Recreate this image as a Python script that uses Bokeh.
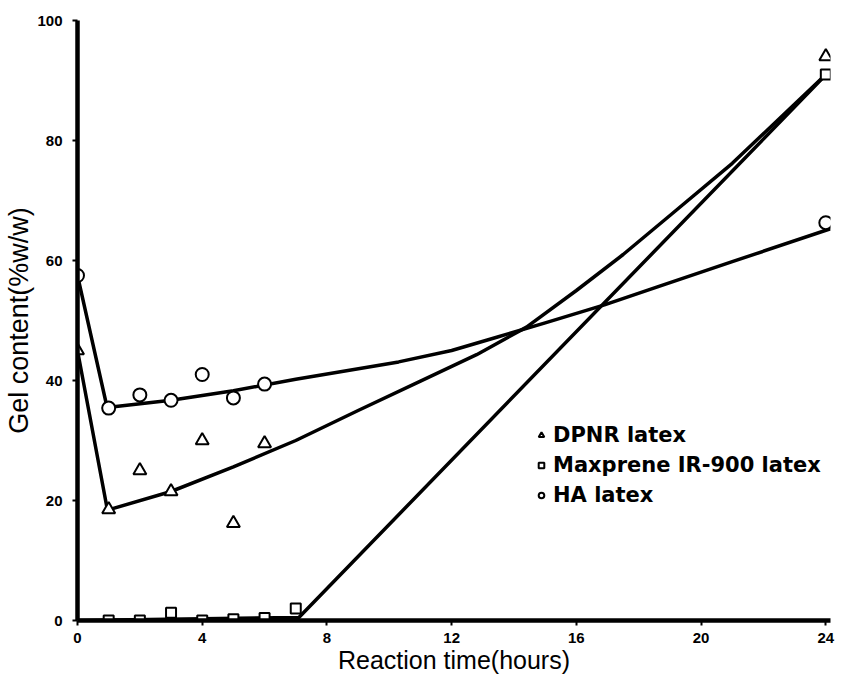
from bokeh.plotting import figure
from bokeh.models import Range1d, FixedTicker, Legend, LegendItem, ColumnDataSource
from bokeh.embed import file_html
from bokeh.resources import INLINE

# ---- measured points ----
dpnr_t = [0, 1, 2, 3, 4, 5, 6, 24]
dpnr_gel = [45, 18.5, 25, 21.5, 30, 16.2, 29.5, 94]

maxp_t = [1, 2, 3, 4, 5, 6, 7, 24]
maxp_gel = [0, 0, 1.3, 0, 0.2, 0.4, 2.0, 91]

ha_t = [0, 1, 2, 3, 4, 5, 6, 24]
ha_gel = [57.5, 35.4, 37.6, 36.7, 41, 37.1, 39.4, 66.3]

# ---- hand-drawn trend curves ----
dpnr_fit_t = [0, 0.96, 3, 5, 7, 9, 11, 12.8, 14.4, 16, 17.5, 19, 21, 24.1]
dpnr_fit_gel = [45, 18.4, 21.5, 25.6, 30, 35, 39.9, 44.3, 48.9, 55, 61, 67.5, 76.2, 91.5]

maxp_fit_t = [0, 7.1, 24.1]
maxp_fit_gel = [0, 0.5, 91.5]

ha_fit_t = [0, 0.95, 3, 5, 7, 10.3, 12, 13.5, 15, 16.9, 18.6, 21, 24.15]
ha_fit_gel = [57.5, 35.5, 36.7, 38.3, 40.2, 43.1, 45, 47.3, 49.6, 52.6, 55.6, 59.8, 65.3]

x_ticks = [0, 4, 8, 12, 16, 20, 24]
y_ticks = [0, 20, 40, 60, 80, 100]

p = figure(width=837, height=676, output_backend="svg", toolbar_location=None,
           x_range=Range1d(0, 24.15), y_range=Range1d(0, 100),
           min_border_left=77, min_border_right=7, min_border_top=20, min_border_bottom=56)
p.grid.visible = False
p.outline_line_color = None
p.background_fill_color = "white"

for ax in (p.xaxis[0], p.yaxis[0]):
    ax.axis_line_width = 4.5
    ax.axis_line_color = "black"
    ax.major_tick_line_width = 2
    ax.major_tick_out = 5
    ax.major_tick_in = 0
    ax.minor_tick_line_color = None
    ax.major_label_text_font = "Liberation Sans"
    ax.major_label_text_font_style = "bold"
    ax.major_label_text_font_size = "15px"
    ax.major_label_text_color = "black"
    ax.axis_label_text_font = "Liberation Sans"
    ax.axis_label_text_font_style = "normal"
    ax.axis_label_text_color = "black"

p.xaxis.axis_label_text_font_size = "25px"
p.yaxis.axis_label_text_font_size = "27px"
p.xaxis.ticker = FixedTicker(ticks=x_ticks)
p.yaxis.ticker = FixedTicker(ticks=y_ticks)
p.xaxis.axis_label = "Reaction time(hours)"
p.yaxis.axis_label = "Gel content(%w/w)"
p.xaxis.major_label_standoff = 7
p.yaxis.major_label_standoff = 10
p.xaxis.axis_label_standoff = 0
p.yaxis.axis_label_standoff = 0

lw = 3.5
p.line(dpnr_fit_t, dpnr_fit_gel, line_color="black", line_width=lw, line_join="round")
p.line(maxp_fit_t, maxp_fit_gel, line_color="black", line_width=lw, line_join="round")
p.line(ha_fit_t, ha_fit_gel, line_color="black", line_width=lw, line_join="round")

p.scatter(dpnr_t, dpnr_gel, marker="triangle", size=13, fill_color="white",
          line_color="black", line_width=2)
p.scatter(maxp_t, maxp_gel, marker="square", size=10, fill_color="white",
          line_color="black", line_width=2)
p.scatter(ha_t, ha_gel, marker="circle", size=13, fill_color="white",
          line_color="black", line_width=2)

# legend-only renderers (smaller glyphs, no visible data)
nan = float("nan")
r1 = p.scatter("x", "y", source=ColumnDataSource(dict(x=[nan], y=[nan])), marker="triangle",
               size=10, fill_color="white", line_color="black", line_width=2)
r2 = p.scatter("x", "y", source=ColumnDataSource(dict(x=[nan], y=[nan])), marker="square",
               size=9, fill_color="white", line_color="black", line_width=2)
r3 = p.scatter("x", "y", source=ColumnDataSource(dict(x=[nan], y=[nan])), marker="circle",
               size=10, fill_color="white", line_color="black", line_width=2)

legend = Legend(items=[LegendItem(label="DPNR latex", renderers=[r1]),
                       LegendItem(label="Maxprene IR-900 latex", renderers=[r2]),
                       LegendItem(label="HA latex", renderers=[r3])],
                location=(457, 112), padding=0, margin=0, spacing=4,
                glyph_width=14, glyph_height=14, label_standoff=5, label_height=26,
                label_text_font="DejaVu Sans", label_text_font_size="21px",
                label_text_font_style="bold", label_text_color="black",
                border_line_alpha=0, background_fill_alpha=0)
p.add_layout(legend, "center")

open("out.html", "w").write(file_html(p, INLINE))
